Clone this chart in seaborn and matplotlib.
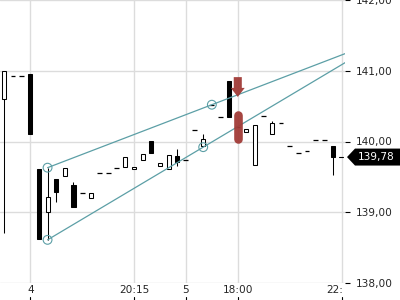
import numpy as np
import pandas as pd
import matplotlib
matplotlib.use("Agg")
import matplotlib.pyplot as plt
import matplotlib.transforms as mtransforms
from matplotlib.patches import Polygon
import seaborn as sns

# ---------------- data ----------------
idx = list(range(39))
opens = [140.60, 140.93, 140.93, 140.96, 139.61, 139.01, 139.47, 139.51, 139.39, 139.27,
         139.20, 139.56, 139.56, 139.63, 139.64, 139.61, 139.74, 140.00, 139.65, 139.61,
         139.80, 139.74, 140.16, 139.93, 140.52, 140.35, 140.86, 140.21, 140.13, 139.67,
         140.36, 140.11, 140.26, 139.94, 139.84, 139.87, 140.02, 140.02, 139.93]
highs = [141.00, 140.93, 140.93, 140.96, 139.61, 139.63, 139.47, 139.63, 139.43, 139.27,
         139.27, 139.56, 139.56, 139.63, 139.78, 139.64, 139.82, 140.00, 139.69, 139.81,
         139.89, 139.74, 140.16, 140.10, 140.52, 140.35, 140.86, 140.21, 140.17, 140.24,
         140.36, 140.29, 140.26, 139.94, 139.84, 139.87, 140.02, 140.02, 139.93]
lows = [138.71, 140.93, 140.93, 140.11, 138.62, 138.61, 139.15, 139.51, 139.08, 139.27,
        139.20, 139.56, 139.56, 139.63, 139.64, 139.61, 139.74, 139.84, 139.65, 139.61,
        139.66, 139.74, 140.16, 139.93, 140.52, 140.35, 140.35, 140.21, 140.13, 139.67,
        140.36, 140.11, 140.26, 139.94, 139.84, 139.87, 140.02, 140.02, 139.53]
closes = [141.00, 140.93, 140.93, 140.11, 138.62, 139.22, 139.29, 139.63, 139.08, 139.27,
          139.27, 139.56, 139.56, 139.63, 139.78, 139.64, 139.82, 139.84, 139.69, 139.81,
          139.71, 139.74, 140.16, 140.04, 140.52, 140.35, 140.35, 140.21, 140.17, 140.24,
          140.36, 140.26, 140.26, 139.94, 139.84, 139.87, 140.02, 140.02, 139.78]

# trend lines: anchor points (index, price)
upper_x = [5, 24]
upper_y = [139.63, 140.52]
lower_x = [5, 23]
lower_y = [138.61, 139.92]

# signal markers
signal_x = [27]
arrow_top = [140.91]
arrow_tip = [140.63]
pill_low = [140.04]
pill_high = [140.38]

last_price = 139.78

xtick_pos = [3, 15, 21, 27, 39]
xtick_labels = ["4", "20:15", "5", "18:00", "22:30"]
ytick_vals = [138, 139, 140, 141, 142]

# ---------------- style ----------------
sns.set_style("white")
plt.rcParams["font.family"] = ["DejaVu Sans"]
FS = 7.6
TEAL = "#5c9fa6"
RED = "#a13b37"
GRID = "#dcdcdc"

fig = plt.figure(figsize=(4, 3), dpi=100)
ax = fig.add_axes([0, 17 / 300, 345 / 400, 283 / 300])

df = pd.DataFrame({"i": idx, "o": opens, "h": highs, "l": lows, "c": closes})

# wicks
wk = df[df.h > df.l]
ax.vlines(wk.i, wk.l, wk.h, color="black", lw=0.75, zorder=3)

# bodies
body = df[df.c != df.o]
bottoms = np.minimum(body.o, body.c)
heights = np.abs(body.c - body.o)
fills = ["white" if c > o else "black" for o, c in zip(body.o, body.c)]
ax.bar(body.i, heights, bottom=bottoms, width=0.47, color=fills,
       edgecolor="black", linewidth=0.75, zorder=4)

# flat candles -> dashes
flat = df[df.c == df.o]
ax.hlines(flat.c, flat.i - 0.28, flat.i + 0.28, color="black", lw=0.9, zorder=4)

# trend lines extended to right edge
x_end = 41
def extend(xs, ys):
    slope = (ys[1] - ys[0]) / (xs[1] - xs[0])
    return [xs[0], x_end], [ys[0], ys[0] + slope * (x_end - xs[0])]

ux, uy = extend(upper_x, upper_y)
lx, ly = extend(lower_x, lower_y)
tl = pd.DataFrame({"x": ux + lx, "y": uy + ly, "g": ["u", "u", "l", "l"]})
sns.lineplot(data=tl, x="x", y="y", units="g", estimator=None, color=TEAL,
             lw=0.9, ax=ax, legend=False, zorder=5)
anch = pd.DataFrame({"x": upper_x + lower_x, "y": upper_y + lower_y})
sns.scatterplot(data=anch, x="x", y="y", s=40, facecolor="none", edgecolor=TEAL,
                linewidth=0.8, ax=ax, legend=False, zorder=6)

# signal markers
for sx, at, tip, pl, ph in zip(signal_x, arrow_top, arrow_tip, pill_low, pill_high):
    ax.annotate("", xy=(sx, tip), xytext=(sx, at),
                arrowprops=dict(arrowstyle="simple,head_length=0.65,head_width=1.0,tail_width=0.58",
                                mutation_scale=10, fc=RED, ec="none", alpha=0.95,
                                shrinkA=0, shrinkB=0), zorder=7)
    ax.plot([sx, sx], [pl, ph], color=RED, lw=6.2, solid_capstyle="round",
            alpha=0.95, zorder=7)

# axes setup
ax.set_xlim(-0.5, 39.4)
ax.set_ylim(138, 142)
ax.set_xlabel("")
ax.set_ylabel("")
for s in ax.spines.values():
    s.set_visible(False)
ax.grid(True, color=GRID, lw=1.0, zorder=0)
ax.set_axisbelow(True)

ax.yaxis.tick_right()
ax.set_yticks(ytick_vals)
ax.set_yticklabels([f"{v:.2f}".replace(".", ",") for v in ytick_vals])
ax.tick_params(axis="y", length=3.6, width=0.8, color="black", pad=4,
               labelsize=FS, direction="out", right=True, left=False)

ax.set_xticks(xtick_pos)
ax.set_xticklabels(xtick_labels[:-1] + [""])
ax.tick_params(axis="x", length=0, pad=1.2, labelsize=FS)

# last x label clipped at the plot edge
xt = ax.get_xaxis_transform()
t = ax.text(xtick_pos[-1], -2 / 283, xtick_labels[-1], transform=xt, ha="center",
            va="top", fontsize=FS)
t.set_clip_box(mtransforms.TransformedBbox(
    mtransforms.Bbox.from_extents(0, 0, 343 / 400, 1), fig.transFigure))
t.set_clip_on(True)

# small tick marks under x labels
for xp in xtick_pos:
    ax.plot([xp, xp], [-14 / 283, -17.5 / 283], transform=xt, color="black",
            lw=0.8, clip_on=False)

# last price tag
blend = mtransforms.blended_transform_factory(ax.transAxes, ax.transData)
h = 0.12
poly = Polygon([(347 / 345, last_price), (355 / 345, last_price + h),
                (402 / 345, last_price + h), (402 / 345, last_price - h),
                (355 / 345, last_price - h)], closed=True, transform=blend,
               fc="black", ec="none", clip_on=False, zorder=10)
ax.add_patch(poly)
ax.plot([0.982, 0.993], [last_price, last_price], transform=blend, color="black",
        lw=0.8, clip_on=False)
ax.text(376.5 / 345, last_price, f"{last_price:.2f}".replace(".", ","), transform=blend,
        color="white", fontsize=FS, ha="center", va="center", zorder=11)

fig.savefig("out.png", dpi=100)
